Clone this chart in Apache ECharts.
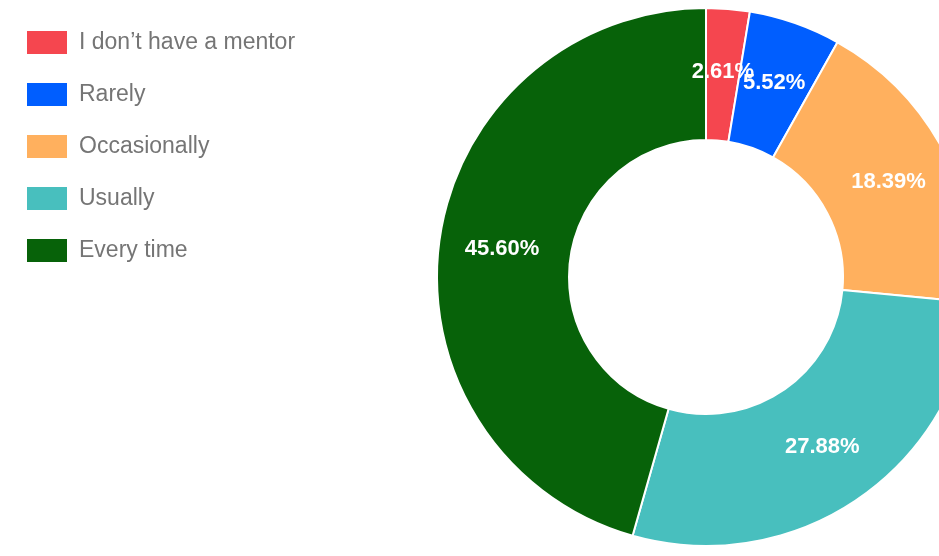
<!DOCTYPE html>
<html>
<head>
<meta charset="utf-8">
<script src="https://cdn.jsdelivr.net/npm/echarts@6/dist/echarts.min.js"></script>
<style>
html,body{margin:0;padding:0;background:#fff;}
#chart{width:939px;height:556px;}
</style>
</head>
<body>
<div id="chart"></div>
<script>
const categories = ['I don’t have a mentor', 'Rarely', 'Occasionally', 'Usually', 'Every time'];
const values = [2.61, 5.52, 18.39, 27.88, 45.60];
const colors = ['#f5464f', '#005eff', '#ffb05e', '#48bfbe', '#076209'];

const chart = echarts.init(document.getElementById('chart'));
chart.setOption({
  animation: false,
  color: colors,
  legend: {
    orient: 'vertical',
    left: 27,
    top: 31,
    padding: 0,
    itemWidth: 40,
    itemHeight: 23,
    itemGap: 29,
    icon: 'rect',
    itemStyle: { borderWidth: 0 },
    data: categories,
    textStyle: {
      color: '#757575',
      fontSize: 23,
      fontFamily: 'Liberation Sans, Arial, sans-serif',
      padding: [0, 0, 0, 7]
    }
  },
  series: [{
    type: 'pie',
    center: [706, 277],
    radius: [137, 269],
    startAngle: 90,
    clockwise: true,
    avoidLabelOverlap: false,
    labelLayout: { hideOverlap: false },
    itemStyle: { borderColor: '#ffffff', borderWidth: 2 },
    label: {
      show: true,
      position: 'inside',
      color: '#ffffff',
      fontSize: 22,
      fontWeight: 'bold',
      fontFamily: 'Liberation Sans, Arial, sans-serif',
      padding: [4, 0, 0, 0],
      formatter: p => p.value.toFixed(2) + '%'
    },
    labelLine: { show: false },
    data: categories.map((c, i) => ({ name: c, value: values[i] }))
  }]
});
</script>
</body>
</html>
